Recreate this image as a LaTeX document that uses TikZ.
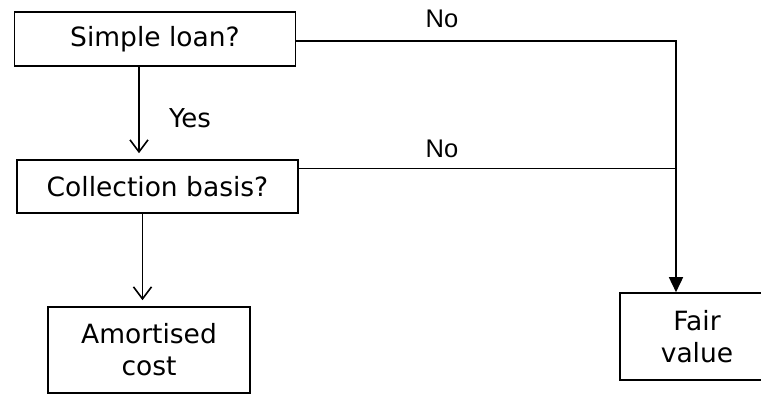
\documentclass[tikz,border=0pt]{standalone}
\usepackage{fontspec}
\setmainfont{DejaVu Sans}
\newfontfamily\labelfont{Liberation Sans}
\usetikzlibrary{arrows.meta}

\begin{document}
\begin{tikzpicture}[x=1pt,y=-1pt,line width=1.6pt,
    box/.style={draw,inner sep=0pt,align=center,font=\fontsize{26.5}{32}\selectfont},
    lbl/.style={inner sep=0pt,font=\fontsize{26}{30}\selectfont},
    nolbl/.style={inner sep=0pt,font=\labelfont\fontsize{25.5}{30}\selectfont},
    open/.style={-{Straight Barb[length=12pt,width=18pt,line width=1.6pt]},shorten >=6pt},
    filled/.style={-{Triangle[length=15pt,width=14pt]}}]
  % page size as the reference
  \useasboundingbox (0,0) rectangle (761,394);
  % the decision boxes
  \node[box,minimum width=281pt,minimum height=54pt] (simple) at (155,39) {Simple loan?};
  \node[box,minimum width=281pt,minimum height=53pt] (collect) at (157.5,186.5) {Collection basis?};
  % the outcome boxes
  \node[box,minimum width=202pt,minimum height=86pt] (amort) at (149,350) {Amortised\\cost};
  \node[box,minimum width=154pt,minimum height=87pt] (fair) at (697,336.5) {Fair\\value};
  % where the No lines meet
  \coordinate (turn) at (676,41);
  \coordinate (out2) at ([yshift=18pt]collect.east);
  % Yes: down to the second question
  \draw[open] ([xshift=-16pt]simple.south) -- ([xshift=-16pt]simple.south |- collect.north);
  \node[lbl] (yes) at (190,118) {Yes};
  % second question down to amortised cost
  \draw[open] ([xshift=-15pt]collect.south) -- ([xshift=-15pt]collect.south |- amort.north);
  % No from the first question, down to fair value
  \draw[filled] (simple.east |- turn) -- (turn) -- (turn |- fair.north);
  \node[nolbl] (no1) at (442,19) {No};
  % No from the second question joins it
  \draw (out2) -- (turn |- out2);
  \node[nolbl] (no2) at (442,148.5) {No};
\end{tikzpicture}
\end{document}
